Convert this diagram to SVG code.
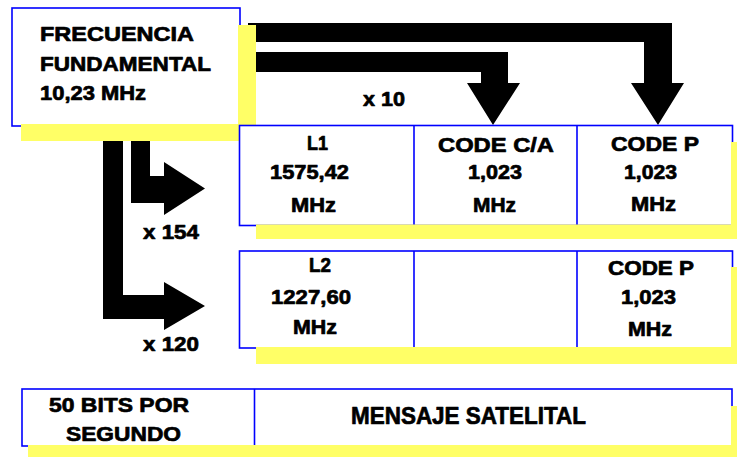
<svg xmlns="http://www.w3.org/2000/svg" width="737" height="457" viewBox="0 0 737 457">
<style>
.box{fill:#fff;stroke:#0000ff;stroke-width:1.6}
.div{stroke:#0000ff;stroke-width:1.6;fill:none}
.sh{fill:#ffff66}
.arr{fill:#000}
text{font-family:"Liberation Sans",Arial,sans-serif;font-weight:700;fill:#000;stroke:#000;stroke-width:0.7;stroke-linejoin:round}
.t{font-size:20.5px}
.b{font-size:21px}
.m{font-size:24px}
</style>
<rect width="737" height="457" fill="#fff"/>
<g id="connectors">
<polygon class="arr" points="248,23 672,23 672,83 684,83 658,125 631,83 644,83 644,42 248,42"/>
<polygon class="arr" points="248,52 508,52 508,83 520,83 493,125 467,83 481,83 481,72 248,72"/>
<polygon class="arr" points="103,130 123,130 123,295 164,295 164,282 205,306 164,330 164,319 103,319"/>
<polygon class="arr" points="131,130 150,130 150,176 164,176 164,162 205,188.5 164,215 164,203 131,203"/>
<text class="t" x="363" y="106" textLength="42" lengthAdjust="spacingAndGlyphs">x 10</text>
<text class="t" x="143" y="239" textLength="56" lengthAdjust="spacingAndGlyphs">x 154</text>
<text class="t" x="143" y="351" textLength="56" lengthAdjust="spacingAndGlyphs">x 120</text>
</g>
<g id="fundamental">
<rect class="box" x="12" y="8" width="228" height="118"/>
<polygon class="sh" points="238,25 256,25 256,141 21,141 21,124 238,124"/>
<text class="t" x="40" y="41" textLength="154" lengthAdjust="spacingAndGlyphs">FRECUENCIA</text>
<text class="t" x="40" y="71" textLength="171" lengthAdjust="spacingAndGlyphs">FUNDAMENTAL</text>
<text class="t" x="40" y="100" textLength="106" lengthAdjust="spacingAndGlyphs">10,23 MHz</text>
</g>
<g id="row-l1">
<rect class="box" x="239.5" y="125.5" width="493" height="100"/>
<line class="div" x1="414" y1="125.5" x2="414" y2="225.5"/>
<line class="div" x1="577" y1="125.5" x2="577" y2="225.5"/>
<polygon class="sh" points="731,142 750,142 750,239 256,239 256,224.5 731,224.5"/>
<text class="t" x="307" y="150" textLength="21" lengthAdjust="spacingAndGlyphs">L1</text>
<text class="t" x="270" y="179" textLength="79" lengthAdjust="spacingAndGlyphs">1575,42</text>
<text class="t" x="291" y="212" textLength="45" lengthAdjust="spacingAndGlyphs">MHz</text>
<text class="t" x="438" y="152" textLength="116" lengthAdjust="spacingAndGlyphs">CODE C/A</text>
<text class="t" x="468" y="179" textLength="54" lengthAdjust="spacingAndGlyphs">1,023</text>
<text class="t" x="473" y="212" textLength="43" lengthAdjust="spacingAndGlyphs">MHz</text>
<text class="t" x="611" y="151" textLength="88" lengthAdjust="spacingAndGlyphs">CODE P</text>
<text class="t" x="624" y="179" textLength="53" lengthAdjust="spacingAndGlyphs">1,023</text>
<text class="t" x="631" y="211" textLength="45" lengthAdjust="spacingAndGlyphs">MHz</text>
</g>
<g id="row-l2">
<rect class="box" x="239.5" y="251" width="493" height="97"/>
<line class="div" x1="414" y1="251" x2="414" y2="348"/>
<line class="div" x1="577" y1="251" x2="577" y2="348"/>
<polygon class="sh" points="731,267 750,267 750,364 256,364 256,347 731,347"/>
<text class="t" x="309" y="272" textLength="22" lengthAdjust="spacingAndGlyphs">L2</text>
<text class="t" x="271" y="304" textLength="80" lengthAdjust="spacingAndGlyphs">1227,60</text>
<text class="t" x="293" y="334" textLength="44" lengthAdjust="spacingAndGlyphs">MHz</text>
<text class="t" x="608" y="275" textLength="86" lengthAdjust="spacingAndGlyphs">CODE P</text>
<text class="t" x="621" y="304" textLength="55" lengthAdjust="spacingAndGlyphs">1,023</text>
<text class="t" x="628" y="336" textLength="44" lengthAdjust="spacingAndGlyphs">MHz</text>
</g>
<g id="row-mensaje">
<rect class="box" x="22" y="389" width="710" height="57"/>
<line class="div" x1="254.5" y1="389" x2="254.5" y2="446"/>
<polygon class="sh" points="731,406 750,406 750,458 28,458 28,445 731,445"/>
<text class="b" x="49" y="412" textLength="140" lengthAdjust="spacingAndGlyphs">50 BITS POR</text>
<text class="b" x="66" y="441" textLength="115" lengthAdjust="spacingAndGlyphs">SEGUNDO</text>
<text class="m" x="351" y="424" textLength="235" lengthAdjust="spacingAndGlyphs">MENSAJE SATELITAL</text>
</g>
</svg>
